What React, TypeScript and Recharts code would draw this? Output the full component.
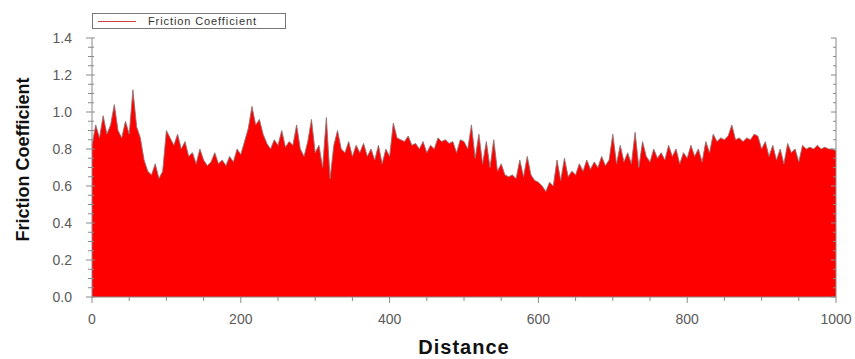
import React from 'react';
import { ComposedChart, Area, Line, XAxis, YAxis } from 'recharts';

const distances: number[] = [
  0, 5, 10, 15, 20, 25, 30, 35, 40, 45, 50, 55, 60, 65, 70, 75, 80, 85, 90, 95,
  100, 105, 110, 115, 120, 125, 130, 135, 140, 145, 150, 155, 160, 165, 170, 175, 180, 185, 190, 195,
  200, 205, 210, 215, 220, 225, 230, 235, 240, 245, 250, 255, 260, 265, 270, 275, 280, 285, 290, 295,
  300, 305, 310, 315, 320, 325, 330, 335, 340, 345, 350, 355, 360, 365, 370, 375, 380, 385, 390, 395,
  400, 405, 410, 415, 420, 425, 430, 435, 440, 445, 450, 455, 460, 465, 470, 475, 480, 485, 490, 495,
  500, 505, 510, 515, 520, 525, 530, 535, 540, 545, 550, 555, 560, 565, 570, 575, 580, 585, 590, 595,
  600, 605, 610, 615, 620, 625, 630, 635, 640, 645, 650, 655, 660, 665, 670, 675, 680, 685, 690, 695,
  700, 705, 710, 715, 720, 725, 730, 735, 740, 745, 750, 755, 760, 765, 770, 775, 780, 785, 790, 795,
  800, 805, 810, 815, 820, 825, 830, 835, 840, 845, 850, 855, 860, 865, 870, 875, 880, 885, 890, 895,
  900, 905, 910, 915, 920, 925, 930, 935, 940, 945, 950, 955, 960, 965, 970, 975, 980, 985, 990, 995,
  1000,
];

const friction: number[] = [
  0.82, 0.93, 0.86, 0.98, 0.88, 0.93, 1.04, 0.90, 0.86, 0.95, 0.88, 1.12, 0.92, 0.86, 0.74, 0.68, 0.66, 0.72, 0.64, 0.68,
  0.90, 0.86, 0.82, 0.88, 0.80, 0.84, 0.76, 0.78, 0.72, 0.80, 0.74, 0.71, 0.73, 0.78, 0.72, 0.74, 0.71, 0.76, 0.73, 0.80,
  0.77, 0.84, 0.91, 1.03, 0.93, 0.96, 0.88, 0.83, 0.80, 0.85, 0.82, 0.90, 0.81, 0.84, 0.82, 0.93, 0.80, 0.76, 0.84, 0.96,
  0.78, 0.82, 0.70, 0.97, 0.64, 0.82, 0.90, 0.80, 0.78, 0.84, 0.76, 0.82, 0.78, 0.83, 0.76, 0.80, 0.74, 0.82, 0.72, 0.80,
  0.76, 0.94, 0.86, 0.85, 0.84, 0.87, 0.82, 0.83, 0.80, 0.84, 0.78, 0.82, 0.80, 0.86, 0.84, 0.85, 0.83, 0.84, 0.78, 0.85,
  0.84, 0.80, 0.93, 0.75, 0.88, 0.72, 0.84, 0.70, 0.85, 0.68, 0.72, 0.66, 0.65, 0.66, 0.64, 0.74, 0.65, 0.76, 0.66, 0.63,
  0.62, 0.60, 0.57, 0.62, 0.60, 0.74, 0.63, 0.75, 0.65, 0.68, 0.66, 0.72, 0.68, 0.74, 0.69, 0.73, 0.70, 0.76, 0.71, 0.74,
  0.88, 0.72, 0.82, 0.73, 0.78, 0.72, 0.89, 0.70, 0.84, 0.76, 0.73, 0.80, 0.75, 0.78, 0.74, 0.82, 0.76, 0.80, 0.72, 0.78,
  0.75, 0.82, 0.76, 0.80, 0.73, 0.84, 0.78, 0.88, 0.84, 0.86, 0.85, 0.87, 0.93, 0.85, 0.86, 0.84, 0.86, 0.85, 0.88, 0.87,
  0.80, 0.84, 0.76, 0.82, 0.74, 0.80, 0.72, 0.83, 0.78, 0.80, 0.73, 0.82, 0.80, 0.81, 0.80, 0.82, 0.80, 0.81, 0.80, 0.80,
  0.79,
];

const xTicks: number[] = [
  0, 50, 100, 150, 200, 250, 300, 350, 400, 450, 500, 550, 600, 650, 700, 750, 800, 850, 900, 950, 1000,
];
const xMajorLabels: number[] = [0, 200, 400, 600, 800, 1000];

const yTicks: number[] = [
  0, 0.05, 0.1, 0.15, 0.2, 0.25, 0.3, 0.35, 0.4, 0.45, 0.5, 0.55, 0.6, 0.65, 0.7, 0.75, 0.8, 0.85, 0.9, 0.95,
  1.0, 1.05, 1.1, 1.15, 1.2, 1.25, 1.3, 1.35, 1.4,
];
const yMajorLabels: string[] = ['0.0', '0.2', '0.4', '0.6', '0.8', '1.0', '1.2', '1.4'];

const seriesName = 'Friction Coefficient';
const xTitle = 'Distance';
const yTitle = 'Friction Coefficient';

const data = distances.map((d, i) => ({ d, v: friction[i] }));

const AXIS = '#8a8a8a';
const LABEL = '#5a5a5a';
const FONT = 'Arial, "Liberation Sans", Helvetica, sans-serif';

const isMajorY = (v: number) => Math.round(v * 100) % 20 === 0;
const yLabelFor = (v: number) => yMajorLabels[Math.round(v * 100) / 20] ?? '';

const BottomTick = (props: any) => {
  const { x, y, payload } = props;
  const major = xMajorLabels.includes(payload.value);
  return (
    <g>
      <line x1={x} y1={y} x2={x} y2={y + (major ? 6 : 4)} stroke={AXIS} strokeWidth={1} />
      {major && (
        <text x={x} y={y + 27} textAnchor="middle" fontSize={14} fontFamily={FONT} fill={LABEL}>
          {payload.value}
        </text>
      )}
    </g>
  );
};

const TopTick = (props: any) => {
  const { x, y, payload } = props;
  const major = xMajorLabels.includes(payload.value);
  return <line x1={x} y1={y} x2={x} y2={y + (major ? 5 : 3)} stroke={AXIS} strokeWidth={1} />;
};

const LeftTick = (props: any) => {
  const { x, y, payload } = props;
  const major = isMajorY(payload.value);
  return (
    <g>
      <line x1={x - (major ? 6 : 4)} y1={y} x2={x + (major ? 3 : 2)} y2={y} stroke={AXIS} strokeWidth={1} />
      {major && (
        <text x={x - 20} y={y + 5} textAnchor="end" fontSize={14} fontFamily={FONT} fill={LABEL}>
          {yLabelFor(payload.value)}
        </text>
      )}
    </g>
  );
};

const RightTick = (props: any) => {
  const { x, y, payload } = props;
  const major = isMajorY(payload.value);
  return <line x1={x - (major ? 5 : 3)} y1={y} x2={x} y2={y} stroke={AXIS} strokeWidth={1} />;
};

export default function App() {
  return (
    <div style={{ position: 'absolute', left: 0, top: 0, width: 855, height: 359, background: '#fff' }}>
      <ComposedChart
        width={855}
        height={359}
        data={data}
        margin={{ top: 38, right: 0, bottom: 0, left: 0 }}
      >
        <XAxis
          xAxisId="bottom"
          dataKey="d"
          type="number"
          domain={[0, 1000]}
          ticks={xTicks}
          interval={0}
          height={62}
          tickSize={0}
          tickMargin={0}
          tickLine={false}
          axisLine={{ stroke: AXIS }}
          tick={<BottomTick />}
          label={{
            content: (p: any) => {
              const vb = p.viewBox;
              return (
                <text
                  x={vb.x + vb.width / 2}
                  y={vb.y + 57}
                  textAnchor="middle"
                  fontSize={20}
                  fontWeight="bold"
                  fontFamily={FONT}
                  fill="#111"
                  letterSpacing={1}
                >
                  {xTitle}
                </text>
              );
            },
          }}
        />
        <XAxis
          xAxisId="top"
          orientation="top"
          dataKey="d"
          type="number"
          domain={[0, 1000]}
          ticks={xTicks}
          interval={0}
          height={0}
          tickSize={0}
          tickMargin={0}
          tickLine={false}
          axisLine={{ stroke: AXIS }}
          tick={<TopTick />}
        />
        <YAxis
          yAxisId="left"
          type="number"
          domain={[0, 1.4]}
          ticks={yTicks}
          interval={0}
          width={92}
          tickSize={0}
          tickMargin={0}
          tickLine={false}
          axisLine={{ stroke: AXIS }}
          tick={<LeftTick />}
          label={{
            content: (p: any) => {
              const vb = p.viewBox;
              const cx = 23;
              const cy = vb.y + vb.height / 2 - 8;
              return (
                <text
                  x={cx}
                  y={cy}
                  transform={`rotate(-90 ${cx} ${cy})`}
                  textAnchor="middle"
                  dominantBaseline="central"
                  fontSize={18}
                  fontWeight="bold"
                  fontFamily={FONT}
                  fill="#111"
                >
                  {yTitle}
                </text>
              );
            },
          }}
        />
        <YAxis
          yAxisId="right"
          orientation="right"
          type="number"
          domain={[0, 1.4]}
          ticks={yTicks}
          interval={0}
          width={19}
          tickSize={0}
          tickMargin={0}
          tickLine={false}
          axisLine={{ stroke: AXIS }}
          tick={<RightTick />}
        />
        <Area
          xAxisId="bottom"
          yAxisId="left"
          type="linear"
          dataKey="v"
          name={seriesName}
          baseValue={0}
          fill="#ff0000"
          fillOpacity={1}
          stroke="#957272"
          strokeWidth={0.9}
          isAnimationActive={false}
          dot={false}
          activeDot={false}
        />
        <Line
          xAxisId="top"
          yAxisId="right"
          type="linear"
          dataKey="v"
          stroke="none"
          dot={false}
          activeDot={false}
          isAnimationActive={false}
          legendType="none"
        />
      </ComposedChart>
      <div
        style={{
          position: 'absolute',
          left: 92,
          top: 13,
          width: 192,
          height: 14,
          border: '1px solid #777',
          boxSizing: 'content-box',
          display: 'flex',
          alignItems: 'center',
          fontFamily: FONT,
        }}
      >
        <div style={{ marginLeft: 5, width: 38, height: 0, borderTop: '1px solid #d04040' }} />
        <span style={{ marginLeft: 12, fontSize: 11, letterSpacing: 0.9, color: '#333', whiteSpace: 'nowrap' }}>
          {seriesName}
        </span>
      </div>
    </div>
  );
}
